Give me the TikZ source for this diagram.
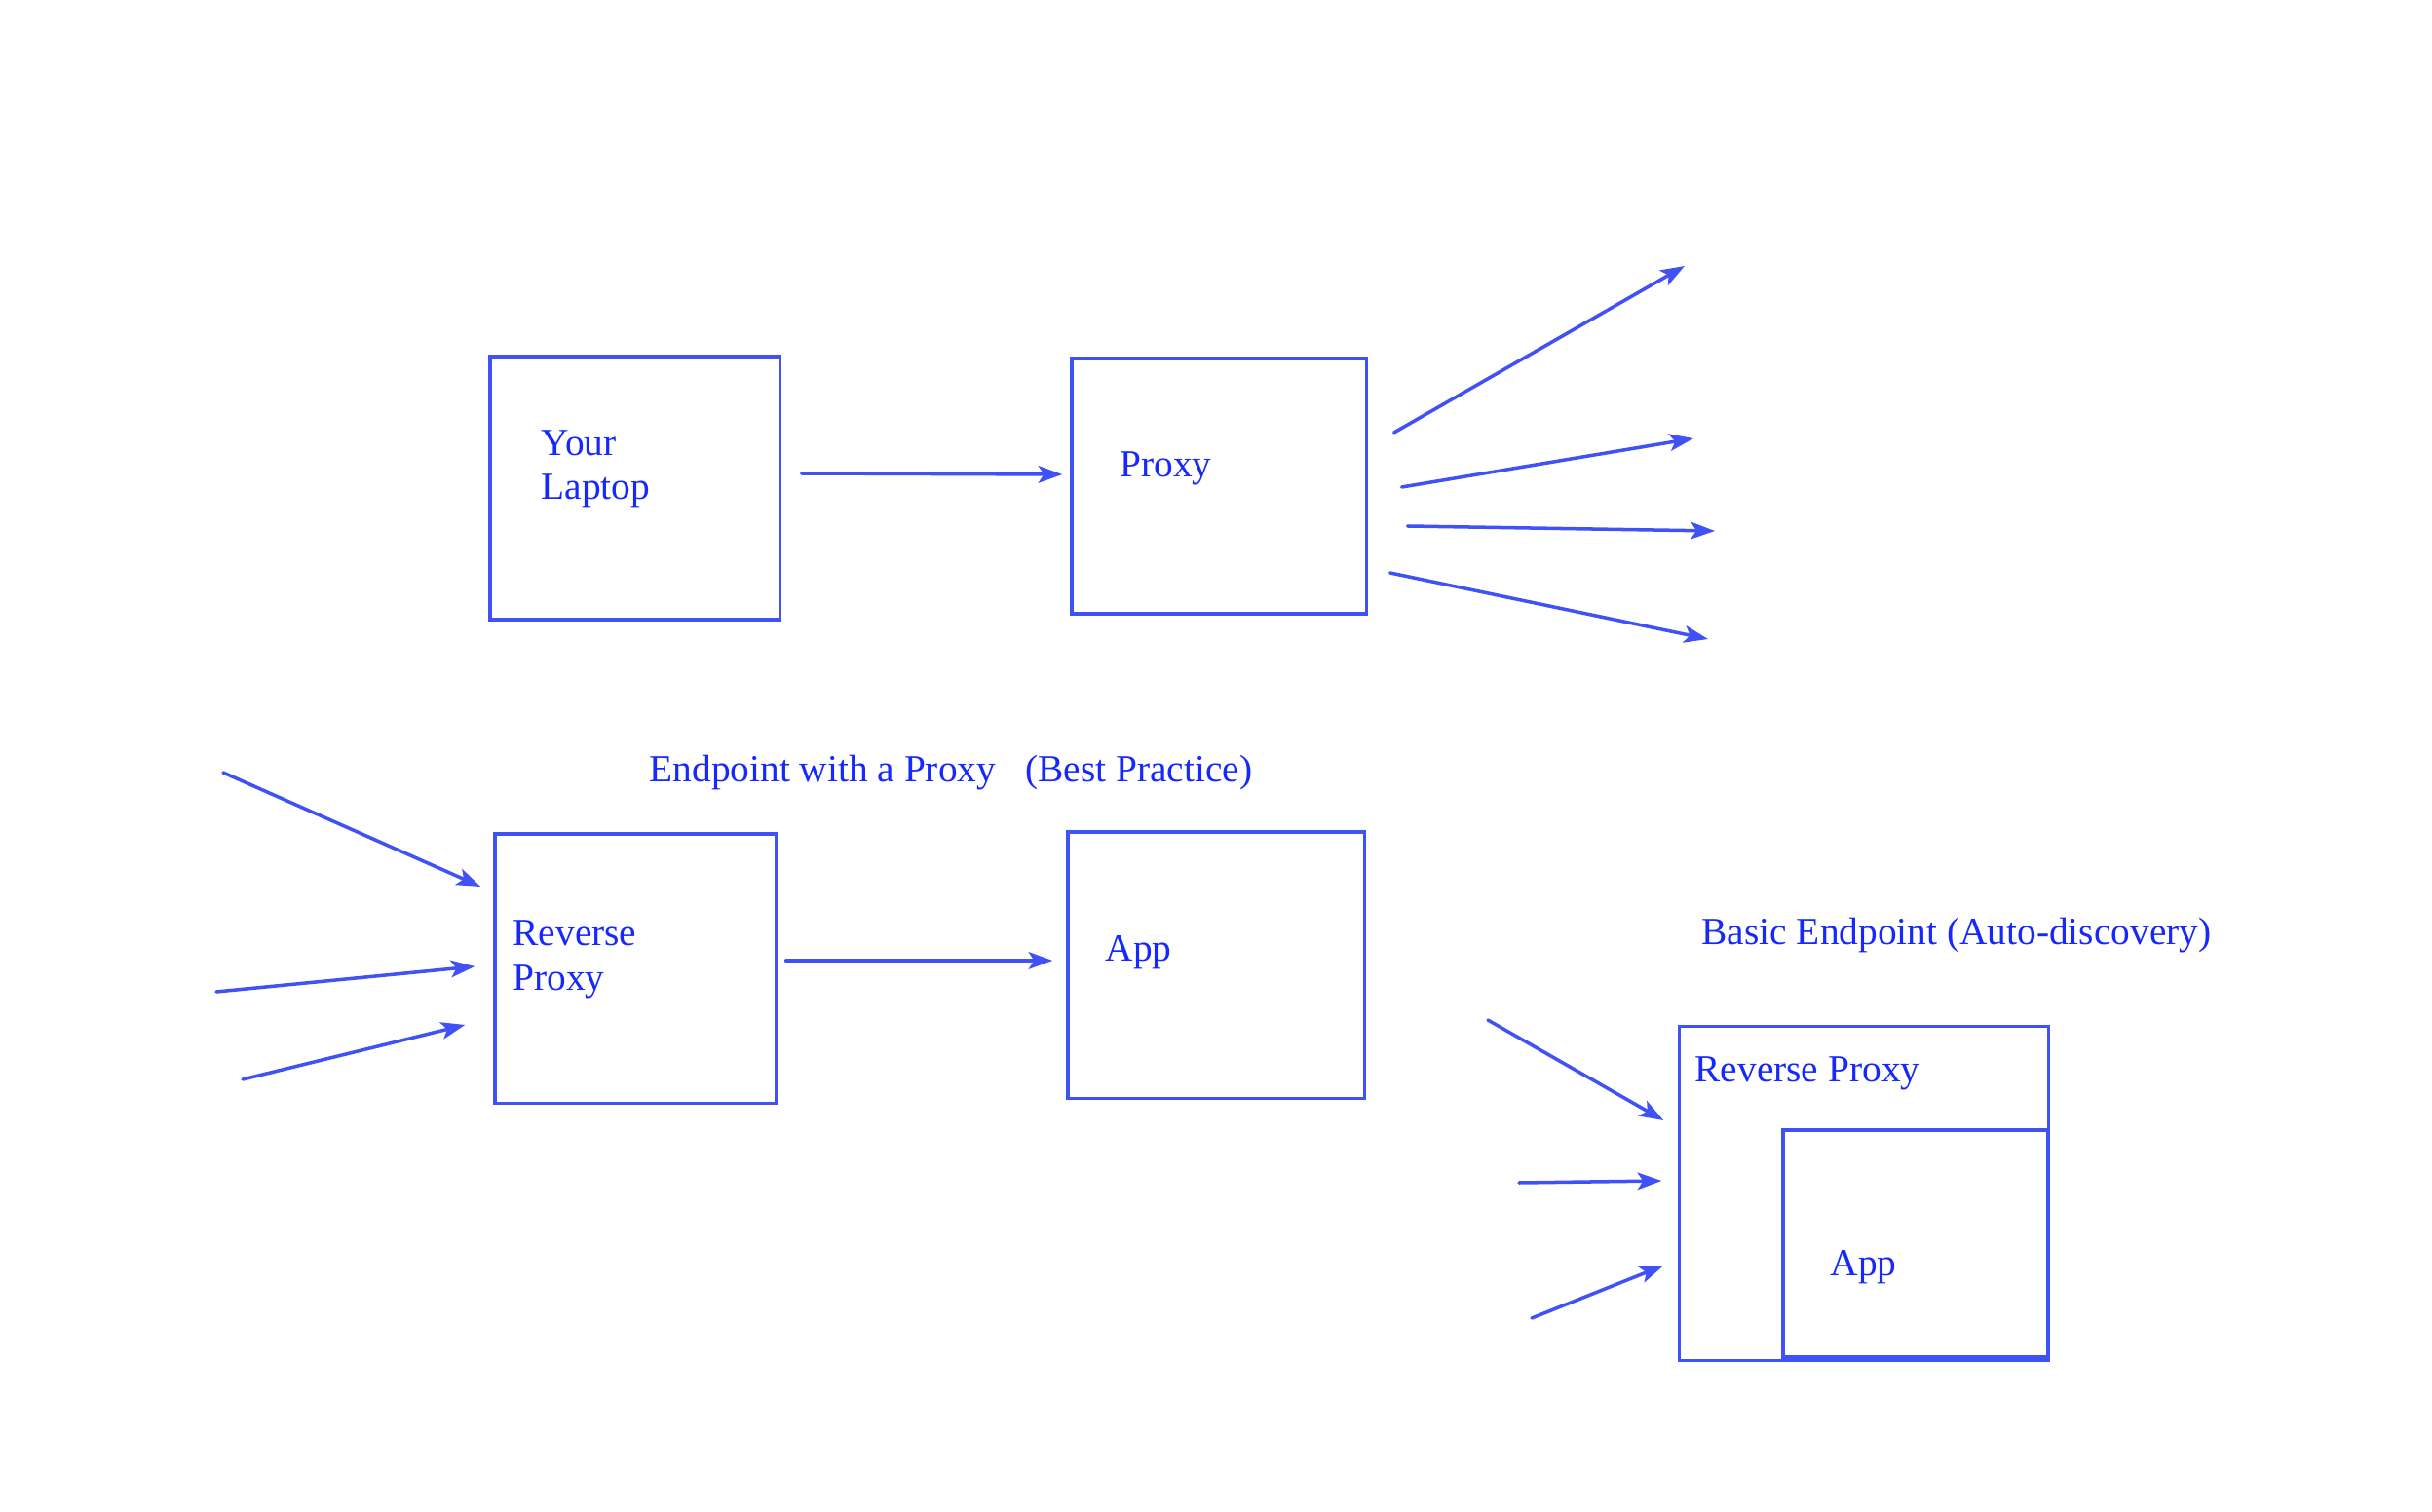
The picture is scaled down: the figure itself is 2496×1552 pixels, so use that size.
\documentclass[tikz,border=0pt]{standalone}
\usepackage{fontspec}
\setmainfont{Liberation Serif}
\usepackage{tikz}
\usetikzlibrary{arrows.meta}
\definecolor{boxblue}{RGB}{64,82,246}
\definecolor{labelblue}{RGB}{22,40,252}
\tikzset{every picture/.style={line width=0.9pt}}

\begin{document}
\begin{tikzpicture}[x=0.01cm,y=-0.01cm,
    box/.style={draw=boxblue, rectangle, inner sep=0pt},
    lbl/.style={text=labelblue, anchor=base west, inner sep=0pt, align=left, font=\fontsize{11.2pt}{12.8pt}\selectfont},
    flow/.style={draw=boxblue, line width=1pt, line cap=round, -{Stealth[length=7pt,width=5pt,inset=1.6pt]}}]
    \useasboundingbox (0,0) rectangle (2496,1552);

    % top row
    \node[box, minimum width=2.97cm, minimum height=2.70cm] (laptop) at (651.5,501) {};
    \node[box, minimum width=3.02cm, minimum height=2.62cm] (proxy) at (1251,499) {};
    \node[lbl] (laptop text) at (554,513) {Your\\Laptop};
    \node[lbl] (proxy text) at (1148,490) {Proxy};

    \coordinate (out1) at (1729,273);
    \coordinate (out2) at (1738,450);
    \coordinate (out3) at (1760,545);
    \coordinate (out4) at (1753,656);

    \draw[flow] ([shift={(21,-15)}]laptop.east) -- ([shift={(-8,-12)}]proxy.west);
    \draw[flow] ([shift={(27,-55)}]proxy.east) -- (out1);
    \draw[flow] ([shift={(35,1)}]proxy.east) -- (out2);
    \draw[flow] ([shift={(41,41)}]proxy.east) -- (out3);
    \draw[flow] ([shift={(23,89)}]proxy.east) -- (out4);

    % endpoint with a proxy
    \node[lbl] (title left) at (665,802) {Endpoint with a Proxy\hspace{0.3cm}(Best Practice)};
    \node[box, minimum width=2.88cm, minimum height=2.76cm] (rproxy) at (652,994) {};
    \node[box, minimum width=3.04cm, minimum height=2.73cm] (app) at (1248,990.5) {};
    \node[lbl] (rproxy text) at (525,1016) {Reverse\\Proxy};
    \node[lbl] (app text) at (1133,986) {App};

    \coordinate (in1) at (229,793);
    \coordinate (in2) at (222,1018);
    \coordinate (in3) at (249,1108);

    \draw[flow] (in1) -- ([shift={(-13,-84)}]rproxy.west);
    \draw[flow] (in2) -- ([shift={(-19,-2)}]rproxy.west);
    \draw[flow] (in3) -- ([shift={(-29,58)}]rproxy.west);
    \draw[flow] ([shift={(9,-8)}]rproxy.east) -- ([shift={(-14,-4.5)}]app.west);

    % basic endpoint
    \node[lbl] (title right) at (1745,969) {Basic Endpoint (Auto-discovery)};
    \node[box, minimum width=3.78cm, minimum height=3.42cm] (basic) at (1913,1225) {};
    \node[box, minimum width=2.71cm, minimum height=2.33cm] (inner app) at (1965.5,1276.5) {};
    \node[lbl] (basic text) at (1738,1110) {Reverse Proxy};
    \node[lbl] (inner app text) at (1877,1309) {App};

    \coordinate (bin1) at (1527,1047);
    \coordinate (bin2) at (1559,1214);
    \coordinate (bin3) at (1572,1353);

    \draw[flow] (bin1) -- ([shift={(-15,-75)}]basic.west);
    \draw[flow] (bin2) -- ([shift={(-17,-13)}]basic.west);
    \draw[flow] (bin3) -- ([shift={(-15,74)}]basic.west);
\end{tikzpicture}
\end{document}
